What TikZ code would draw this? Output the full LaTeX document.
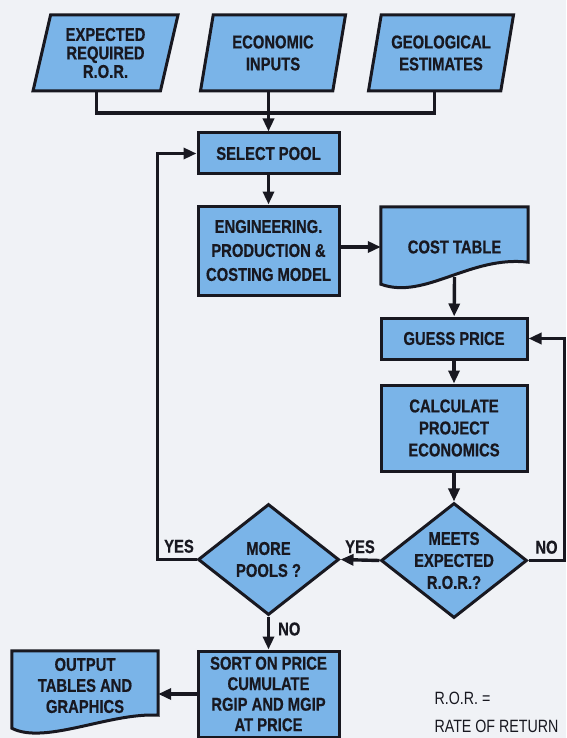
\documentclass[tikz,border=0pt]{standalone}
\usepackage{fontspec}
\setmainfont{Liberation Sans}[FakeStretch=0.8, BoldFeatures={FakeBold=0.6}]
\usepackage{xcolor}
\usetikzlibrary{shapes.geometric,arrows.meta,positioning}

\definecolor{paper}{RGB}{240,242,246}
\definecolor{boxblue}{RGB}{122,180,232}
\definecolor{ink}{RGB}{24,24,32}

\pgfdeclarelayer{paperlayer}
\pgfdeclarelayer{doclayer}
\pgfsetlayers{paperlayer,doclayer,main}

\begin{document}
\begin{tikzpicture}[
    x=1pt, y=-1pt,
    every node/.style={font=\fontsize{18.5}{22}\selectfont\bfseries, text=ink},
    box/.style={rectangle, minimum width=141pt, draw=ink, line width=3pt, fill=boxblue, align=center, inner sep=2pt},
    io/.style={trapezium, trapezium left angle=72, trapezium right angle=108, trapezium stretches body, minimum width=145pt, minimum height=76pt, draw=ink, line width=3pt, fill=boxblue, align=center, inner sep=2pt},
    ask/.style={diamond, aspect=1.27, inner sep=-10pt, minimum width=146pt, minimum height=115pt, draw=ink, line width=3pt, fill=boxblue, align=center},
    doc/.style={rectangle, minimum width=147pt, align=center, inner sep=2pt},
    docshape/.style={draw=ink, line width=3pt, fill=boxblue},
    link/.style={draw=ink, line width=3.4pt},
    arrow/.style={link, -{Triangle[length=13pt,width=11pt]}},
    tag/.style={inner sep=2pt}
]
\useasboundingbox (0,0) rectangle (566,738);

% Inputs
\node (in1) [io] at (105.5,53) {EXPECTED\\[-3.5pt]REQUIRED\\[-3.5pt]R.O.R.};
\node (in2) [io] at (273,53) {ECONOMIC\\INPUTS};
\node (in3) [io] at (441,53) {GEOLOGICAL\\ESTIMATES};

% Main flow
\node (pool) [box, minimum height=41pt] at (268.5,153.5) {SELECT POOL};
\node (eng) [box, minimum height=89pt] at (268.5,250.5) {ENGINEERING.\\[2pt]PRODUCTION \&\\[2pt]COSTING MODEL};
\node (cost) [doc, minimum height=80pt] at (454.5,247) {COST TABLE};
\node (guess) [box, minimum width=146pt, minimum height=41pt] at (454,338.5) {GUESS PRICE};
\node (calc) [box, minimum width=146pt, minimum height=86pt] at (454,428) {CALCULATE\\PROJECT\\ECONOMICS};
\node (meets) [ask] at (454,560.5) {MEETS\\EXPECTED\\R.O.R.?};
\node (more) [ask, minimum width=141pt, minimum height=111pt] at (268.5,559.5) {MORE\\POOLS ?};
\node (sort) [box, minimum height=86pt] at (268.5,694) {SORT ON PRICE\\[-1.5pt]CUMULATE\\[-1.5pt]RGIP AND MGIP\\[-1.5pt]AT PRICE};
\node (out) [doc, minimum width=146pt, minimum height=69pt] at (85,685.5) {OUTPUT\\[-1pt]TABLES AND\\[-1pt]GRAPHICS};

% Legend
\node (ror) [anchor=west, align=left, font=\fontsize{17.8}{22}\selectfont\mdseries] at (431,712) {R.O.R. =\\[6pt]RATE OF RETURN};

% Document shapes
\begin{pgfonlayer}{doclayer}
\draw [docshape] (cost.north west) -- (cost.north east) -- ([yshift=25pt]cost.south east)
    .. controls +(-58,-7) and +(44,16) .. ([yshift=3pt]cost.south west) -- cycle;
\draw [docshape] (out.north west) -- (out.north east) -- ([yshift=5pt]out.south east)
    .. controls +(-48,-3) and +(33,17) .. ([yshift=-8pt]out.south west) -- cycle;
\end{pgfonlayer}

% Connectors
\coordinate (join) at (268.5,113);
\draw [link] (in1.bottom side) |- (join) -| (in3.bottom side);
\draw [arrow] (in2.bottom side -| pool.north) -- (pool.north);
\draw [arrow] (pool) -- (eng);
\draw [arrow] (eng.east |- cost.west) -- (cost.west);
\draw [arrow] ([yshift=10pt]cost.south) -- (guess);
\draw [arrow] (guess) -- (calc);
\draw [arrow] (calc) -- (meets);
\draw [arrow] (meets.west) -- node [tag, above, yshift=3pt] {YES} (more.east);
\draw [arrow] (meets.east) -- ++(36,0) node [tag, midway, above, yshift=3pt] {NO} |- (guess.east);
\draw [arrow] (more.west) -- ++(-39,0) node [tag, midway, above, yshift=3pt, xshift=2pt] {YES} |- (pool.west);
\draw [arrow] (more.south) -- node [tag, right, xshift=6pt, yshift=4pt] {NO} (sort.north);
\draw [arrow] (sort.west) -- (sort.west -| out.east);

% Paper
\begin{pgfonlayer}{paperlayer}
\fill [paper] (0,0) rectangle (566,738);
\end{pgfonlayer}

\end{tikzpicture}
\end{document}
